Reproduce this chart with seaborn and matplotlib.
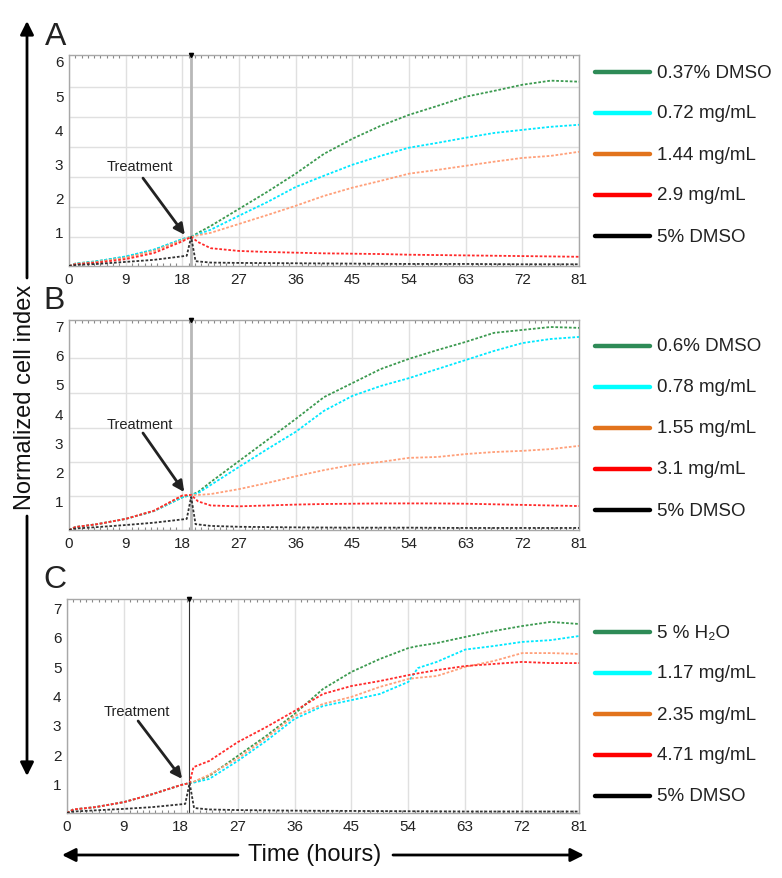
import pandas as pd
import matplotlib.pyplot as plt
import seaborn as sns
from matplotlib.ticker import MultipleLocator, FixedLocator

W, H = 782, 879

# ---- data ----
hours = [0, 1, 4.5, 9, 13.5, 18, 19.4, 20.5, 22.5, 27, 31.5, 36, 40.5, 45,
         49.5, 54, 58.5, 63, 67.5, 72, 76.5, 81]
hours_c = [0, 1, 4.5, 9, 13.5, 18, 19.4, 20, 22.5, 27, 31.5, 36, 40.5, 45,
           49.5, 54, 55.5, 58.5, 63, 67.5, 72, 76.5, 81]
hours_black = [0, 1, 4.5, 9, 13.5, 18.7, 19.4, 20.1, 22.5, 27, 36, 45, 54, 63, 72, 81]

# panel A
a_green = [0.0, 0.07, 0.14, 0.27, 0.47, 0.78, 0.85, 0.97, 1.17, 1.67, 2.17, 2.70, 3.28, 3.72,
           4.10, 4.42, 4.68, 4.95, 5.12, 5.30, 5.42, 5.39]
a_cyan = [0.0, 0.07, 0.14, 0.28, 0.48, 0.79, 0.85, 0.93, 1.06, 1.47, 1.87, 2.31, 2.64, 2.96,
          3.22, 3.46, 3.60, 3.75, 3.89, 3.98, 4.07, 4.13]
a_orange = [0.0, 0.06, 0.12, 0.24, 0.44, 0.76, 0.85, 0.90, 0.97, 1.23, 1.49, 1.76, 2.05, 2.29,
            2.49, 2.70, 2.81, 2.93, 3.05, 3.16, 3.22, 3.34]
a_red = [0.0, 0.05, 0.10, 0.20, 0.38, 0.72, 0.85, 0.70, 0.52, 0.44, 0.41, 0.39, 0.37, 0.36,
         0.35, 0.33, 0.32, 0.31, 0.30, 0.29, 0.28, 0.27]
a_black = [0, 0.03, 0.06, 0.12, 0.18, 0.30, 0.85, 0.14, 0.10, 0.09, 0.08, 0.07, 0.06, 0.06, 0.05, 0.05]
a_labels = ["0.37% DMSO", "0.72 mg/mL", "1.44 mg/mL", "2.9 mg/mL", "5% DMSO"]

# panel B
b_green = [0.0, 0.10, 0.20, 0.38, 0.65, 1.12, 1.20, 1.30, 1.64, 2.36, 3.08, 3.80, 4.55, 5.03,
           5.51, 5.86, 6.16, 6.44, 6.75, 6.85, 6.95, 6.92]
b_cyan = [0.0, 0.10, 0.20, 0.38, 0.65, 1.12, 1.20, 1.26, 1.54, 2.16, 2.77, 3.36, 4.08, 4.59,
          4.93, 5.20, 5.51, 5.82, 6.13, 6.40, 6.54, 6.61]
b_orange = [0.0, 0.10, 0.20, 0.38, 0.66, 1.18, 1.20, 1.20, 1.23, 1.40, 1.61, 1.84, 2.05, 2.23,
            2.33, 2.47, 2.50, 2.60, 2.67, 2.71, 2.77, 2.88]
b_red = [0.0, 0.10, 0.20, 0.38, 0.66, 1.18, 1.20, 0.98, 0.84, 0.81, 0.84, 0.87, 0.89, 0.90,
         0.91, 0.91, 0.91, 0.90, 0.88, 0.86, 0.84, 0.82]
b_black = [0, 0.05, 0.10, 0.17, 0.25, 0.38, 1.13, 0.20, 0.14, 0.11, 0.09, 0.08, 0.08, 0.07, 0.07, 0.07]
b_labels = ["0.6% DMSO", "0.78 mg/mL", "1.55 mg/mL", "3.1 mg/mL", "5% DMSO"]

# panel C
c_green = [0.0, 0.12, 0.20, 0.37, 0.64, 0.95, 1.02, 1.05, 1.26, 1.94, 2.62, 3.37, 4.22, 4.80,
           5.24, 5.61, 5.68, 5.78, 5.99, 6.19, 6.36, 6.50, 6.43]
c_cyan = [0.0, 0.12, 0.20, 0.37, 0.64, 0.95, 1.02, 1.03, 1.16, 1.77, 2.45, 3.20, 3.64, 3.84,
          4.05, 4.46, 4.93, 5.14, 5.56, 5.68, 5.82, 5.88, 6.02]
c_orange = [0.0, 0.12, 0.20, 0.37, 0.64, 0.95, 1.02, 1.06, 1.30, 1.85, 2.55, 3.30, 3.71, 3.95,
            4.29, 4.56, 4.60, 4.66, 4.97, 5.17, 5.44, 5.44, 5.41]
c_red = [0.0, 0.12, 0.20, 0.37, 0.64, 0.95, 1.02, 1.56, 1.77, 2.41, 2.92, 3.47, 4.05, 4.32,
         4.49, 4.69, 4.75, 4.86, 5.00, 5.07, 5.14, 5.10, 5.10]
c_black = [0, 0.05, 0.09, 0.14, 0.20, 0.31, 1.02, 0.17, 0.12, 0.10, 0.08, 0.07, 0.06, 0.05, 0.05, 0.05]
c_labels = ["5 % H\u2082O", "1.17 mg/mL", "2.35 mg/mL", "4.71 mg/mL", "5% DMSO"]

x_ticks = [0, 9, 18, 27, 36, 45, 54, 63, 72, 81]
treat_time = 19.35

curve_colors = ["#3c9a50", "#00e8ff", "#ffa07a", "#ff2a2a", "#333333"]
legend_colors = ["#2e8b57", "#00ffff", "#e2731c", "#ff0000", "#000000"]

sns.set_style("white")
plt.rcParams["font.family"] = ["Liberation Sans", "DejaVu Sans"]


def fx(x):
    return x / W


def fy(y):
    return 1 - y / H


panels = [
    dict(letter="A", letter_xy=(56, 37), box=(69, 56, 579, 267), ytop=6.17, yticks=range(1, 7),
         ygrid=[0.85, 1.73, 2.61, 3.49, 4.37, 5.24], times=hours,
         series=[a_green, a_cyan, a_orange, a_red], black=a_black, labels=a_labels,
         leg_y=73, text=(11.3, 2.92), tail=(11.75, 2.57), tip=(18.4, 0.91),
         vline=("#b8b8b8", 2.0)),
    dict(letter="B", letter_xy=(54, 301), box=(69, 321, 579, 531), ytop=7.19, yticks=range(1, 8),
         ygrid=[1.16, 2.33, 3.49, 4.69, 5.89], times=hours,
         series=[b_green, b_cyan, b_orange, b_red], black=b_black, labels=b_labels,
         leg_y=347, text=(11.3, 3.63), tail=(11.75, 3.32), tip=(18.3, 1.30),
         vline=("#b8b8b8", 2.0)),
    dict(letter="C", letter_xy=(55, 580), box=(67, 600, 579, 814), ytop=7.28, yticks=range(1, 8),
         ygrid=[1, 2, 3, 4, 5, 6], times=hours_c,
         series=[c_green, c_cyan, c_orange, c_red], black=c_black, labels=c_labels,
         leg_y=633, text=(11.1, 3.47), tail=(11.25, 3.13), tip=(18.2, 1.16),
         vline=("#333333", 0.8)),
]

fig = plt.figure(figsize=(W / 100, H / 100), dpi=100)

for p in panels:
    l, t, r, b = p["box"]
    ax = fig.add_axes([fx(l), fy(b), (r - l) / W, (b - t) / H])

    frames = []
    for name, vals in zip(p["labels"][:4], p["series"]):
        frames.append(pd.DataFrame({"time": p["times"], "value": vals, "series": name}))
    frames.append(pd.DataFrame({"time": hours_black, "value": p["black"], "series": p["labels"][4]}))
    df = pd.concat(frames, ignore_index=True)

    ax.axvline(treat_time, color=p["vline"][0], lw=p["vline"][1], zorder=1)
    sns.lineplot(data=df, x="time", y="value", hue="series", hue_order=p["labels"],
                 palette=curve_colors, estimator=None, sort=False, legend=False,
                 linewidth=1.3, linestyle=(0, (1.5, 1)), ax=ax, zorder=3)
    ax.plot([treat_time], [p["ytop"]], marker="v", ms=3, color="k", clip_on=False, zorder=5)

    ax.set_xlim(0, 81)
    ax.set_ylim(0, p["ytop"])
    ax.set_xticks(x_ticks)
    ax.set_yticks(list(p["yticks"]))
    ax.xaxis.set_minor_locator(MultipleLocator(1))
    ax.yaxis.set_minor_locator(FixedLocator(p["ygrid"]))
    ax.set_xlabel("")
    ax.set_ylabel("")
    ax.grid(False)
    ax.xaxis.grid(True, which="major", color="#e0e0e0", lw=1)
    ax.yaxis.grid(True, which="minor", color="#e0e0e0", lw=1)
    ax.tick_params(axis="both", which="major", length=0, labelsize=11, pad=4, labelcolor="#222222")
    ax.tick_params(axis="x", which="minor", direction="in", length=2.5, top=True, bottom=True,
                   color="#888888", width=0.8)
    ax.tick_params(axis="y", which="minor", length=0)
    for s in ax.spines.values():
        s.set_color("#a8a8a8")
        s.set_linewidth(1)

    ax.annotate("", xy=p["tip"], xytext=p["tail"],
                arrowprops=dict(arrowstyle="-|>", color="#222222", lw=2, mutation_scale=16,
                                shrinkA=0, shrinkB=0))
    ax.text(p["text"][0], p["text"][1], "Treatment", fontsize=10.5, ha="center", va="center",
            color="#222222")

    lx, ly = p["letter_xy"]
    fig.text(fx(lx), fy(ly), p["letter"], fontsize=23, ha="center", va="center", color="#222222")

    # legend drawn as solid swatches to the right of each panel
    for i, (lab, col) in enumerate(zip(p["labels"], legend_colors)):
        yy = p["leg_y"] + i * 41
        fig.add_artist(plt.Line2D([fx(595), fx(650)], [fy(yy), fy(yy)], color=col, lw=3.2,
                                  transform=fig.transFigure))
        fig.text(fx(657), fy(yy), lab, fontsize=13.5, ha="left", va="center", color="#222222")

# big axis arrows
arrow_kw = dict(arrowstyle="-|>", color="black", lw=2, mutation_scale=20, shrinkA=0, shrinkB=0)
ax0 = fig.get_axes()[0]
ax0.annotate("", xy=(fx(27), fy(22)), xytext=(fx(27), fy(279)),
             xycoords="figure fraction", arrowprops=arrow_kw)
ax0.annotate("", xy=(fx(27), fy(777)), xytext=(fx(27), fy(517)),
             xycoords="figure fraction", arrowprops=arrow_kw)
ax0.annotate("", xy=(fx(62), fy(856)), xytext=(fx(238), fy(856)),
             xycoords="figure fraction", arrowprops=arrow_kw)
ax0.annotate("", xy=(fx(584), fy(856)), xytext=(fx(393), fy(856)),
             xycoords="figure fraction", arrowprops=arrow_kw)
fig.text(fx(25), fy(397), "Normalized cell index", rotation=90, fontsize=17,
         ha="center", va="center", color="#111111")
fig.text(fx(315), fy(855), "Time (hours)", fontsize=17, ha="center", va="center", color="#111111")

fig.savefig("out.png", dpi=100)
